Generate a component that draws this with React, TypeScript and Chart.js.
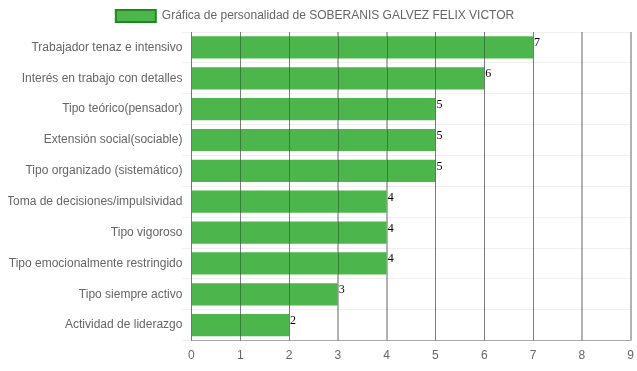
import React, { useEffect, useRef } from "react";
import { Chart, registerables } from "chart.js";

Chart.register(...registerables);

const categories = [
  "Trabajador tenaz e intensivo",
  "Interés en trabajo con detalles",
  "Tipo teórico(pensador)",
  "Extensión social(sociable)",
  "Tipo organizado (sistemático)",
  "Toma de decisiones/impulsividad",
  "Tipo vigoroso",
  "Tipo emocionalmente restringido",
  "Tipo siempre activo",
  "Actividad de liderazgo",
];
const values = [7, 6, 5, 5, 5, 4, 4, 4, 3, 2];
const seriesLabel = "Gráfica de personalidad de SOBERANIS GALVEZ FELIX VICTOR";
const xTicks = [0, 1, 2, 3, 4, 5, 6, 7, 8, 9];

const FONT = "Arial, 'Liberation Sans', Helvetica, sans-serif";
const GRID_X = "rgba(0,0,0,0.3)";

const overlay = {
  id: "overlay",
  afterDatasetsDraw(chart: any) {
    const ctx = chart.ctx;
    const area = chart.chartArea;
    const xs = chart.scales.x;
    ctx.save();
    // vertical grid lines drawn over the bars
    ctx.strokeStyle = GRID_X;
    ctx.lineWidth = 1;
    xTicks.forEach((v) => {
      const px = Math.round(xs.getPixelForValue(v)) + 0.5;
      ctx.beginPath();
      ctx.moveTo(px, area.top);
      ctx.lineTo(px, area.bottom);
      ctx.stroke();
    });
    // value labels
    const meta = chart.getDatasetMeta(0);
    ctx.font = "12px 'Liberation Serif', 'DejaVu Serif', serif";
    ctx.fillStyle = "#000";
    ctx.textBaseline = "top";
    ctx.textAlign = "left";
    meta.data.forEach((bar: any, i: number) => {
      const top = bar.y - bar.height / 2;
      ctx.fillText(String(values[i]), bar.x + 1, top + 1);
    });
    ctx.restore();
  },
};

export default function App() {
  const ref = useRef<HTMLCanvasElement>(null);
  useEffect(() => {
    if (!ref.current) return;
    const chart = new Chart(ref.current, {
      type: "bar",
      data: {
        labels: categories,
        datasets: [
          {
            label: seriesLabel,
            data: values,
            backgroundColor: "#4CB54C",
            borderColor: "#1E8A1E",
            borderWidth: 0,
          },
        ],
      },
      options: {
        indexAxis: "y",
        animation: false,
        responsive: true,
        maintainAspectRatio: false,
        layout: { padding: 0 },
        plugins: {
          tooltip: { enabled: false },
          legend: {
            display: true,
            position: "top",
            labels: {
              color: "#666",
              font: { family: FONT, size: 12 },
              boxWidth: 40,
              boxHeight: 12,
              generateLabels: () => [
                {
                  text: seriesLabel + "\u00a0\u00a0\u00a0\u00a0\u00a0\u00a0",
                  fillStyle: "#4CB54C",
                  strokeStyle: "#1E8A1E",
                  lineWidth: 2,
                  hidden: false,
                  datasetIndex: 0,
                  fontColor: "#666",
                } as any,
              ],
            },
          },
        },
        scales: {
          x: {
            min: 0,
            max: 9,
            afterBuildTicks: (axis: any) => {
              axis.ticks = xTicks.map((v) => ({ value: v }));
            },
            ticks: {
              color: "#666",
              font: { family: FONT, size: 12 },
              padding: 8,
            },
            grid: {
              color: GRID_X,
              drawTicks: false,
            },
            border: { color: GRID_X },
          },
          y: {
            ticks: {
              color: "#666",
              font: { family: FONT, size: 12 },
              padding: -1,
            },
            grid: {
              color: "rgba(0,0,0,0.06)",
              tickLength: 10,
            },
            border: { color: "rgba(0,0,0,0.06)" },
          },
        },
      },
      plugins: [overlay],
    });
    return () => chart.destroy();
  }, []);
  return (
    <div
      style={{
        position: "absolute",
        left: 8,
        top: 0,
        width: 629,
        height: 371,
        overflow: "hidden",
      }}
    >
      <div style={{ position: "relative", width: 634, height: 371 }}>
        <canvas ref={ref} />
      </div>
    </div>
  );
}
